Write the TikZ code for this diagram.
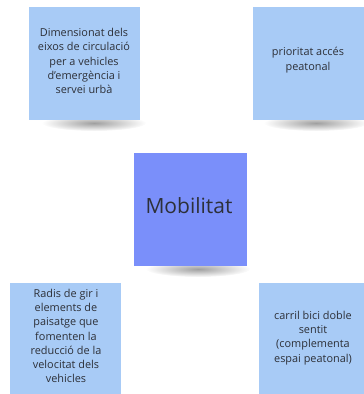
\documentclass[tikz,border=0pt]{standalone}
\usepackage{fontspec}
\setmainfont{Open Sans}
\usetikzlibrary{fadings}
\definecolor{notelight}{RGB}{168,203,246}
\definecolor{notecenter}{RGB}{122,143,250}
\definecolor{txt}{RGB}{45,48,56}
\tikzfading[name=shadowfade, inner color=transparent!25, outer color=transparent!100]
\tikzset{
  note/.style={fill=notelight, draw=none, minimum width=111pt, minimum height=113pt, inner sep=0pt, anchor=north west},
  centernote/.style={note, fill=notecenter, minimum width=113pt},
  notetext/.style={align=center, font=\fontsize{10.9}{14.3}\selectfont, text=txt},
  notemark/.style={fill=black, opacity=0.5, path fading=shadowfade},
}
\begin{document}
\begin{tikzpicture}[x=1pt,y=-1pt]
\useasboundingbox (0,0) rectangle (364,394);
% shadows
\fill[notemark] (94,123) ellipse (52 and 8);
\fill[notemark] (316,123) ellipse (52 and 8);
\fill[notemark] (198,269) ellipse (52 and 8);
% notes
\node[note] (n1) at (29,7) {};
\node[note] (n2) at (253,7) {};
\node[centernote] (c) at (134,153) {};
\node[note] (n3) at (10,283) {};
\node[note, minimum width=105pt] (n4) at (259,283) {};
% texts
\node[notetext] (t1) at (84,61) {Dimensionat dels\\eixos de circulació\\per a vehicles\\d{\char"27}emergència i\\servei urbà};
\node[notetext] (t2) at (308,60) {prioritat accés\\peatonal};
\node[text=txt, font=\fontsize{21}{26}\selectfont] (tc) at (189,206) {Mobilitat};
\node[notetext] (t3) at (66,336) {Radis de gir i\\elements de\\paisatge que\\fomenten la\\reducció de la\\velocitat dels\\vehicles};
\node[notetext] (t4) at (313,338) {carril bici doble\\sentit\\(complementa\\espai peatonal)};
\end{tikzpicture}
\end{document}
